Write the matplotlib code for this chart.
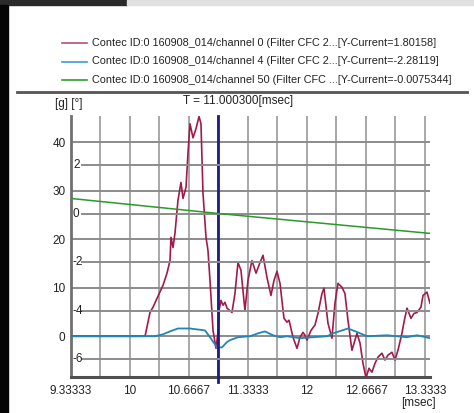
import numpy as np
import matplotlib
matplotlib.use('Agg')
import matplotlib.pyplot as plt
from matplotlib.patches import Rectangle
from matplotlib.lines import Line2D
import matplotlib.transforms as mtransforms

# channel 0 [g]
t_ch0 = [9.3333, 10.147, 10.17, 10.226, 10.26, 10.373, 10.418, 10.452, 10.463, 10.486,
         10.508, 10.542, 10.576, 10.599, 10.633, 10.655, 10.678, 10.712, 10.746, 10.78,
         10.802, 10.825, 10.859, 10.881, 10.904, 10.938, 10.972, 11.0, 11.006, 11.028,
         11.051, 11.073, 11.096, 11.152, 11.186, 11.22, 11.254, 11.299, 11.333, 11.378,
         11.424, 11.469, 11.503, 11.548, 11.593, 11.627, 11.661, 11.695, 11.74, 11.774,
         11.797, 11.842, 11.887, 11.921, 11.955, 11.977, 12.0, 12.045, 12.09, 12.124,
         12.169, 12.192, 12.237, 12.282, 12.316, 12.35, 12.395, 12.429, 12.463, 12.508,
         12.542, 12.565, 12.599, 12.633, 12.667, 12.7, 12.734, 12.768, 12.802, 12.847,
         12.881, 12.915, 12.96, 12.994, 13.028, 13.073, 13.096, 13.13, 13.175, 13.209,
         13.243, 13.288, 13.311, 13.356, 13.39]
g_ch0 = [0, 0, 0, 4.9, 6.0, 10.5, 13.0, 15.6, 20.4, 18.3,
         21.2, 28.0, 31.7, 28.4, 30.7, 37.7, 43.8, 40.9, 42.8, 45.3,
         43.8, 29.4, 20.4, 17.7, 11.5, 1.2, -2.5, 1.8, 5.3, 7.4,
         6.4, 7.0, 5.8, 4.9, 8.8, 15.2, 13.6, 5.3, 11.5, 15.6,
         13.0, 15.2, 16.7, 12.1, 8.4, 11.5, 13.4, 10.9, 3.7, 2.9,
         3.3, -0.2, -2.5, -0.2, 0.8, 0.2, -0.8, 1.2, 2.3, 4.7,
         8.8, 9.9, 2.7, -0.4, 6.8, 10.9, 10.1, 8.8, 3.3, -2.9,
         -0.8, 0.6, -1.4, -5.6, -8.6, -6.6, -7.4, -5.6, -4.3, -3.5,
         -4.9, -3.9, -3.3, -4.9, -2.9, 0.6, 2.9, 5.8, 3.7, 4.7,
         4.9, 6.0, 8.4, 9.1, 6.8]

# channel 4 [g]
t_ch4 = [9.3333, 10.282, 10.373, 10.452, 10.542, 10.678, 10.848, 10.904, 10.949, 10.983,
         11.039, 11.096, 11.13, 11.22, 11.356, 11.446, 11.525, 11.616, 11.695, 11.774,
         11.921, 12.068, 12.226, 12.294, 12.463, 12.576, 12.678, 12.904, 13.13, 13.243,
         13.39]
g_ch4 = [0, 0, 0.4, 1.0, 1.6, 1.6, 1.2, -0.2, -1.4, -2.3,
         -2.3, -1.2, -0.8, -0.2, 0, 0.6, 1.0, 0.2, -0.2, 0,
         -0.4, -0.2, 0, 0.6, 1.6, 0.8, 0, 0.2, -0.2, 0.2,
         -0.4]

# channel 50 [deg]
t_ch50 = [9.3333, 11.0, 13.39]
d_ch50 = [0.62, 0.0, -0.82]

legend_labels = [
    'Contec ID:0 160908_014/channel 0 (Filter CFC 2...[Y-Current=1.80158]',
    'Contec ID:0 160908_014/channel 4 (Filter CFC 2...[Y-Current=-2.28119]',
    'Contec ID:0 160908_014/channel 50 (Filter CFC ...[Y-Current=-0.0075344]',
]
x_ticks = [9.33333, 10, 10.6667, 11.3333, 12, 12.6667, 13.3333]
g_ticks = [0, 10, 20, 30, 40]
deg_ticks = [-6, -4, -2, 0, 2]
cursor_t = 11.0

plt.rcParams['font.family'] = ['Liberation Sans', 'DejaVu Sans']

W, H = 474, 413
fig = plt.figure(figsize=(W / 100, H / 100), dpi=100)

# screenshot edges
fig.patches.append(Rectangle((0, 1 - 5 / H), 127 / W, 5 / H, transform=fig.transFigure,
                             color='#2a2a2a', zorder=0))
fig.patches.append(Rectangle((127 / W, 1 - 5 / H), 1 - 127 / W, 5 / H, transform=fig.transFigure,
                             color='#e0e0e0', zorder=0))
fig.patches.append(Rectangle((0, 0), 8 / W, 1 - 5 / H, transform=fig.transFigure,
                             color='#050505', zorder=0))

# legend
leg_colors = ['#b85070', '#3a9ed0', '#2aa02a']
for i, (lab, c) in enumerate(zip(legend_labels, leg_colors)):
    yy = 1 - (43 + i * 18.5) / H
    fig.add_artist(Line2D([62 / W, 87 / W], [yy, yy], color=c, lw=1.2, transform=fig.transFigure))
    fig.text(92 / W, yy, lab, fontsize=7.85, va='center', ha='left', color='#222222')

# separator
fig.add_artist(Line2D([17 / W, 467 / W], [1 - 92 / H, 1 - 92 / H], color='#555555', lw=2,
                      transform=fig.transFigure))

ax = fig.add_axes([71 / W, 1 - 377 / H, 359 / W, 261 / H])
ax.set_xlim(9.33333, 13.39)
ax.set_ylim(-8.4, 45.4)
ax2 = ax.twinx()
ax2.set_ylim(-6.74, 4.02)

# grid
for xv in np.arange(9.66667, 13.34, 1 / 3):
    ax.axvline(xv, color='#a8a8a8', lw=1.4, zorder=1)
for gv in g_ticks:
    ax.axhline(gv, color='#8c8c8c', lw=1.4, zorder=1)
for dv in deg_ticks:
    ax2.axhline(dv, xmin=11 / 359, color='#8c8c8c', lw=1.4, zorder=1)

ax.plot(t_ch0, g_ch0, color='#a31a4a', lw=1.2, zorder=3, solid_joinstyle='round')
ax.plot(t_ch4, g_ch4, color='#1f86b5', lw=1.3, zorder=4, solid_joinstyle='round')
ax2.plot(t_ch50, d_ch50, color='#2a9a2a', lw=1.1, zorder=3)
ax.axvline(cursor_t, ymin=-0.02, color='#1c1c8c', lw=2, zorder=5, clip_on=False)

for a in (ax, ax2):
    a.tick_params(length=0)
    for s in ('top', 'right'):
        a.spines[s].set_visible(False)
ax2.spines['left'].set_visible(False)
ax2.spines['bottom'].set_visible(False)
ax2.set_yticks([])
ax.spines['left'].set_color('#707070')
ax.spines['left'].set_linewidth(2)
ax.spines['bottom'].set_color('#505050')
ax.spines['bottom'].set_linewidth(2.2)

ax.set_xticks(x_ticks)
ax.set_xticklabels(['9.33333', '10', '10.6667', '11.3333', '12', '12.6667', '13.3333'],
                   fontsize=8.5, color='#222222')
ax.set_yticks(g_ticks)
ax.set_yticklabels([str(v) for v in g_ticks], fontsize=8.5, color='#222222')
ax.tick_params(axis='x', pad=6)
ax.tick_params(axis='y', pad=4)

# degree labels inside the plot
tr = mtransforms.blended_transform_factory(ax2.transAxes, ax2.transData)
for dv in deg_ticks:
    ax2.text(2 / 359, dv, str(dv), transform=tr, fontsize=8.5, va='center', ha='left',
             color='#222222')

fig.text(55 / W, 1 - 104 / H, '[g] [°]', fontsize=8.5, va='center', ha='left', color='#222222')
fig.text(238 / W, 1 - 101 / H, 'T = 11.000300[msec]', fontsize=8.5, va='center', ha='center',
         color='#222222')
fig.text(418 / W, 1 - 403 / H, '[msec]', fontsize=8.5, va='center', ha='center', color='#222222')

fig.savefig('out.png', dpi=100)
